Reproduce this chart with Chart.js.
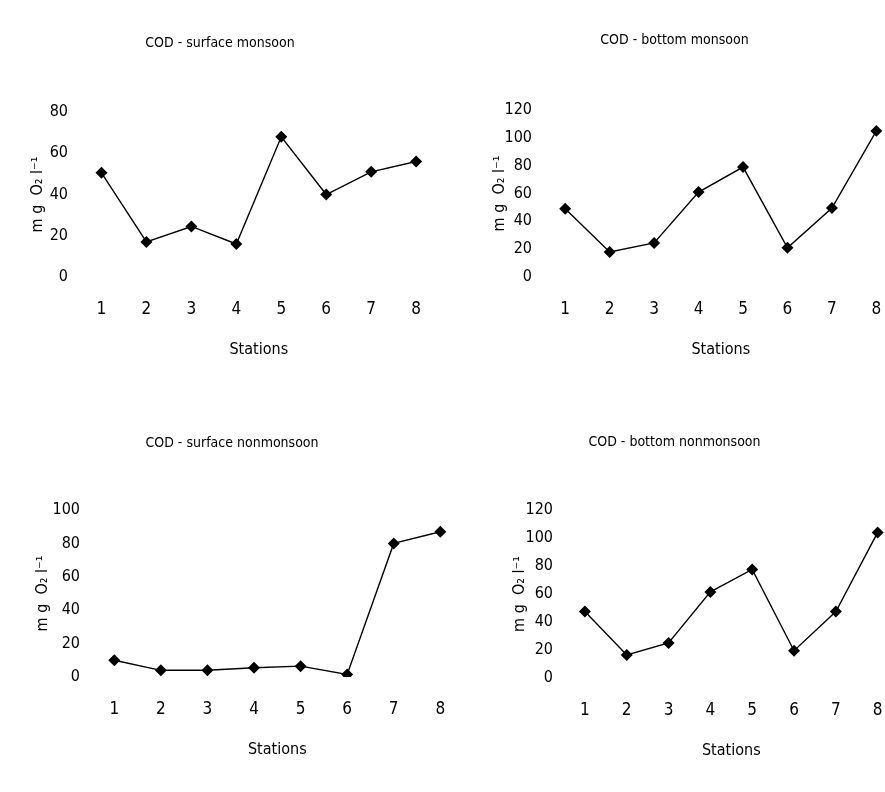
<!DOCTYPE html>
<html>
<head>
<meta charset="utf-8">
<script src="https://cdn.jsdelivr.net/npm/chart.js@4.4.0/dist/chart.umd.min.js"></script>
<style>
    html, body { margin: 0; padding: 0; background: #fff; overflow: hidden; width: 885px; height: 792px; }
    canvas { position: absolute; }
</style>
</head>
<body>
<canvas id="c1"></canvas>
<canvas id="c2"></canvas>
<canvas id="c3"></canvas>
<canvas id="c4"></canvas>
<script>
// Stations on the x axis
const stations = ['1', '2', '3', '4', '5', '6', '7', '8'];

// COD values (mg O2 / l)
const surfaceMonsoon = [50.5, 17, 24.5, 16, 68, 40, 51, 56];
const bottomMonsoon = [49, 18, 24.5, 61, 79, 21, 49.5, 105];
const surfaceNonmonsoon = [10, 4, 4, 5.5, 6.5, 1.5, 80, 87];
const bottomNonmonsoon = [47.5, 16.5, 25, 61.5, 77.5, 19.5, 47.5, 104];

const panelTitles = ['COD - surface monsoon', 'COD - bottom monsoon', 'COD - surface nonmonsoon', 'COD - bottom nonmonsoon'];
const yMaxes = [80, 120, 100, 120];
const yAxisTitle = 'm g  O\u2082 l\u207B\u00B9';
const xAxisTitle = 'Stations';

const FONT = "'Liberation Sans Narrow', 'DejaVu Sans Condensed', 'Liberation Sans', sans-serif";

// canvas box + where the plot area and texts sit (page pixels)
const panels = [
    { id: 'c1', L: 0,   T: 0,   W: 445, H: 395, cl: 79,  cr: 440, ct: 112, cb: 277, titleY: 43,  yTitleX: 38,  data: surfaceMonsoon },
    { id: 'c2', L: 450, T: 0,   W: 455, H: 395, cl: 543, cr: 899, ct: 110, cb: 277, titleY: 40,  yTitleX: 500, data: bottomMonsoon },
    { id: 'c3', L: 0,   T: 400, W: 470, H: 392, cl: 91,  cr: 464, ct: 510, cb: 677, titleY: 443, yTitleX: 43,  data: surfaceNonmonsoon },
    { id: 'c4', L: 450, T: 400, W: 455, H: 392, cl: 564, cr: 899, ct: 510, cb: 678, titleY: 442, yTitleX: 520, data: bottomNonmonsoon }
];

const X_SCALE_H = 90;

panels.forEach((p, i) =>
{
    const cv = document.getElementById(p.id);
    cv.style.left = p.L + 'px';
    cv.style.top = p.T + 'px';
    cv.style.width = p.W + 'px';
    cv.style.height = p.H + 'px';
    cv.width = p.W;
    cv.height = p.H;

    const titleLh = 14 * 1.2;
    const titlePadTop = p.titleY - p.T - titleLh / 2;
    const titlePadBottom = (p.ct - p.T) - titlePadTop - titleLh;
    const yTitleLh = 16 * 1.2;

    new Chart(cv, {
        type: 'line',
        data: {
            labels: stations,
            datasets: [{
                data: p.data,
                borderColor: '#000',
                borderWidth: 1.4,
                backgroundColor: '#000',
                pointStyle: 'rectRot',
                pointRadius: 5,
                pointBackgroundColor: '#000',
                pointBorderColor: '#000',
                tension: 0,
                fill: false
            }]
        },
        options: {
            responsive: false,
            animation: false,
            events: [],
            layout: {
                padding: {
                    left: 0,
                    top: 0,
                    right: (p.L + p.W) - p.cr,
                    bottom: (p.T + p.H) - (p.cb + X_SCALE_H)
                }
            },
            plugins: {
                legend: { display: false },
                tooltip: { enabled: false },
                title: {
                    display: true,
                    text: panelTitles[i],
                    color: '#000',
                    font: { family: FONT, size: 14, weight: 'normal' },
                    padding: { top: titlePadTop, bottom: titlePadBottom }
                }
            },
            scales: {
                x: {
                    offset: true,
                    grid: { display: false, drawTicks: false },
                    border: { display: false },
                    ticks: { color: '#000', padding: 22, font: { family: FONT, size: 17 } },
                    title: {
                        display: true,
                        text: xAxisTitle,
                        color: '#000',
                        font: { family: FONT, size: 16 },
                        padding: { top: 0, bottom: 8 }
                    },
                    afterFit: s => { s.height = X_SCALE_H; }
                },
                y: {
                    min: 0,
                    max: yMaxes[i],
                    grid: { display: false, drawTicks: false },
                    border: { display: false },
                    ticks: { stepSize: 20, color: '#000', padding: 11, font: { family: FONT, size: 16 } },
                    title: {
                        display: true,
                        text: yAxisTitle,
                        color: '#000',
                        font: { family: FONT, size: 16 },
                        padding: { top: p.yTitleX - p.L - yTitleLh / 2, bottom: 0 }
                    },
                    afterFit: s => { s.width = p.cl - p.L; }
                }
            }
        }
    });
});
</script>
</body>
</html>
